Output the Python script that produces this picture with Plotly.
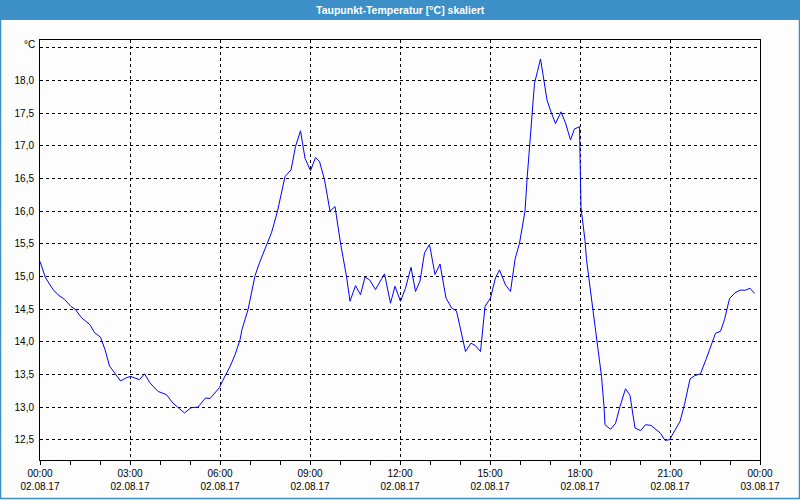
"""
Taupunkt-Temperatur [°C] skaliert — 02.08.17, Tagesverlauf.
"""
import plotly.graph_objects as go

C_BAR    = '#3c8fc7'
C_PAPER  = '#fcfdfc'
C_LINE   = '#0000ff'
C_TEXT   = '#000000'
FONT     = 'Liberation Sans, Arial, sans-serif'

DAY = '2017-08-02'

times = [
    '00:00', '00:11', '00:26', '00:36', '00:49', '01:02', '01:10', '01:23', '01:40', '01:49',
    '02:01', '02:10', '02:19', '02:29', '02:41', '02:53', '03:01', '03:19', '03:29', '03:40',
    '03:56', '04:13', '04:26', '04:49', '05:02', '05:16', '05:31', '05:40', '05:59', '06:05',
    '06:20', '06:30', '06:40', '06:44', '06:56', '07:10', '07:19', '07:32', '07:43', '07:55',
    '08:10', '08:22', '08:31', '08:41', '08:50', '09:01', '09:11', '09:19', '09:29', '09:40',
    '09:50', '10:01', '10:13', '10:20', '10:31', '10:41', '10:50', '10:59', '11:11', '11:29',
    '11:41', '11:50', '12:01', '12:11', '12:22', '12:31', '12:40', '12:49', '12:59', '13:10',
    '13:20', '13:32', '13:43', '13:53', '14:02', '14:11', '14:22', '14:31', '14:41', '14:50',
    '15:01', '15:11', '15:19', '15:31', '15:41', '15:50', '15:59', '16:10', '16:14', '16:19',
    '16:24', '16:29', '16:35', '16:41', '16:46', '16:54', '17:02', '17:11', '17:22', '17:31',
    '17:41', '17:49', '17:59', '18:02', '18:10', '18:13', '18:26', '18:36', '18:43', '18:48',
    '18:50', '19:01', '19:11', '19:20', '19:31', '19:40', '19:50', '20:01', '20:11', '20:22',
    '20:31', '20:41', '20:50', '20:59', '21:11', '21:20', '21:29', '21:40', '21:49', '22:01',
    '22:13', '22:23', '22:31', '22:41', '22:49', '22:59', '23:10', '23:20', '23:31', '23:40',
    '23:49',
]

taupunkt = [
    15.23, 14.98, 14.80, 14.72, 14.65, 14.54, 14.50, 14.37, 14.26, 14.14,
    14.07, 13.88, 13.63, 13.52, 13.40, 13.45, 13.47, 13.42, 13.51, 13.37,
    13.24, 13.19, 13.06, 12.91, 12.99, 13.00, 13.14, 13.13, 13.30, 13.40,
    13.62, 13.80, 14.03, 14.19, 14.49, 15.01, 15.21, 15.46, 15.67, 16.00,
    16.53, 16.63, 16.99, 17.23, 16.81, 16.62, 16.82, 16.76, 16.48, 16.00,
    16.07, 15.51, 15.00, 14.62, 14.86, 14.72, 14.99, 14.95, 14.80, 15.04,
    14.59, 14.85, 14.62, 14.82, 15.14, 14.77, 14.93, 15.36, 15.49, 15.03,
    15.19, 14.67, 14.52, 14.47, 14.14, 13.85, 13.98, 13.94, 13.85, 14.54,
    14.67, 14.98, 15.10, 14.87, 14.77, 15.26, 15.51, 16.00, 16.48, 16.99,
    17.52, 17.96, 18.14, 18.33, 18.09, 17.70, 17.52, 17.34, 17.52, 17.35,
    17.09, 17.26, 17.29, 16.05, 15.55, 15.26, 14.48, 13.91, 13.47, 13.01,
    12.73, 12.66, 12.75, 13.01, 13.28, 13.18, 12.68, 12.64, 12.73, 12.72,
    12.66, 12.60, 12.49, 12.50, 12.66, 12.78, 13.04, 13.43, 13.48, 13.51,
    13.75, 13.96, 14.13, 14.16, 14.34, 14.66, 14.75, 14.79, 14.79, 14.82,
    14.74,
]

y_ticks = [12.5, 13.0, 13.5, 14.0, 14.5, 15.0, 15.5, 16.0, 16.5, 17.0, 17.5, 18.0, 18.5]
y_labels = ['12,5', '13,0', '13,5', '14,0', '14,5', '15,0', '15,5', '16,0', '16,5',
            '17,0', '17,5', '18,0', '']

x = [f'{DAY} {t}' for t in times]

W, H = 800, 500
ML, MR, MT, MB = 40, 40, 40, 40
PW, PH = W - ML - MR, H - MT - MB


def px(v):
    return (v - ML) / PW


def py(v):
    return (H - MB - v) / PH


fig = go.Figure(go.Scatter(
    x=x, y=taupunkt, mode='lines',
    line=dict(color=C_LINE, width=1),
    hovertemplate='%{x|%H:%M}<br>%{y:.2f} °C<extra></extra>',
    showlegend=False,
))

# title bar + outer frame
fig.add_shape(type='rect', xref='paper', yref='paper', layer='below',
              x0=px(0), x1=px(W), y0=py(20), y1=py(0),
              fillcolor=C_BAR, line=dict(width=0))
fig.add_shape(type='rect', xref='paper', yref='paper',
              x0=px(0.5), x1=px(W - 0.5), y0=py(H - 1.5), y1=py(0.5),
              fillcolor='rgba(0,0,0,0)', line=dict(color=C_BAR, width=1.5))
fig.add_annotation(
    xref='paper', yref='paper', x=px(W / 2), y=py(10),
    text='<b>Taupunkt-Temperatur [°C] skaliert</b>', showarrow=False,
    xanchor='center', yanchor='middle',
    font=dict(family=FONT, size=10.5, color='#ffffff'),
)
fig.add_annotation(
    xref='paper', yref='paper', x=px(37), y=py(45),
    text='°C', showarrow=False, xanchor='right', yanchor='middle',
    font=dict(family=FONT, size=10, color=C_TEXT),
)

fig.update_layout(
    width=W, height=H,
    paper_bgcolor=C_PAPER, plot_bgcolor=C_PAPER,
    font=dict(family=FONT, size=10, color=C_TEXT),
    margin=dict(l=ML, r=MR, t=MT, b=MB, pad=0, autoexpand=False),
    xaxis=dict(
        type='date', automargin=False,
        range=[f'{DAY} 00:00', '2017-08-03 00:00'],
        tick0=f'{DAY} 00:00', dtick=3 * 3600000,
        tickformat='%H:%M<br>%d.%m.%y',
        ticks='outside', ticklen=4, tickcolor='black',
        showgrid=True, gridcolor='black', gridwidth=1, griddash='3px,3px',
        showline=True, linecolor='black', linewidth=1, mirror=True,
        zeroline=False,
        minor=dict(dtick=3600000, ticks='outside', ticklen=4,
                   tickcolor='black', showgrid=False),
        tickfont=dict(size=10),
    ),
    yaxis=dict(
        automargin=False,
        range=[12.19, 18.62],
        tickvals=y_ticks, ticktext=y_labels,
        ticks='', ticklabelstandoff=3,
        showgrid=True, gridcolor='black', gridwidth=1, griddash='3px,3px',
        showline=True, linecolor='black', linewidth=1, mirror=True,
        zeroline=False,
        tickfont=dict(size=10),
    ),
)

# the page body has a default 8px margin; drop it so the figure fills the window
fig.write_html('out.html',
               config={'displayModeBar': False},
               post_script="document.body.style.margin='0';")
